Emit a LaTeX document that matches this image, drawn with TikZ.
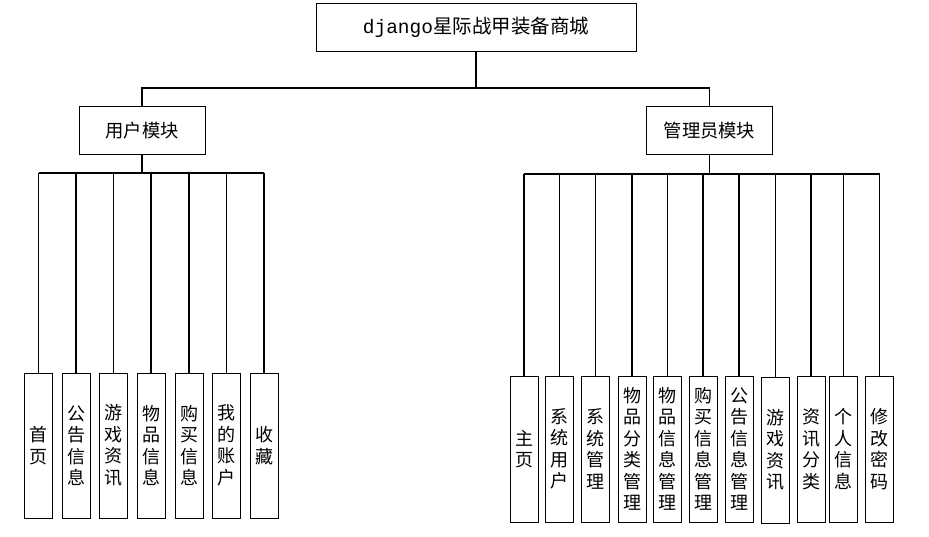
\documentclass[tikz,border=0pt]{standalone}
\usepackage{fontspec}
\setmainfont{Liberation Serif}
\newfontfamily\cjk{Noto Sans CJK SC}
\newfontfamily\latmono{Liberation Mono}
\begin{document}
\begin{tikzpicture}[x=1pt,y=-1pt,
  box/.style={draw=black, line width=1pt, fill=white, inner sep=0pt},
  modbox/.style={box, minimum width=126pt, minimum height=48pt, font=\cjk\fontsize{18.3}{20}\selectfont},
  leaf/.style={box, minimum width=28pt, minimum height=145pt, align=center, font=\cjk\fontsize{18}{21.5}\selectfont},
  conn/.style={draw=black, line width=1.3pt}]
\useasboundingbox (0,0) rectangle (929,537);
\node[box, minimum width=320pt, minimum height=48pt, font=\fontsize{19.5}{22}\selectfont] (top) at (476,27.5) {{\latmono django}{\cjk 星际战甲装备商城}};
\node[modbox] (um) at (142,131) {用户模块};
\node[modbox] (am) at (709.5,131) {管理员模块};
\coordinate (j0) at (476,88);
\coordinate (lb) at (0,173);
\coordinate (rb) at (0,174);
% user leaves
\node[leaf] (l1) at (38.5,445.5) {首\\页};
\node[leaf] (l2) at (76,445.5) {公\\告\\信\\息};
\node[leaf] (l3) at (113.5,445.5) {游\\戏\\资\\讯};
\node[leaf] (l4) at (151,445.5) {物\\品\\信\\息};
\node[leaf] (l5) at (189,445.5) {购\\买\\信\\息};
\node[leaf] (l6) at (226.5,445.5) {我\\的\\账\\户};
\node[leaf] (l7) at (264,445.5) {收\\藏};
% admin leaves
\node[leaf, minimum height=146pt] (r1) at (524,449) {主\\页};
\node[leaf, minimum height=146pt] (r2) at (559.5,449) {系\\统\\用\\户};
\node[leaf, minimum height=146pt] (r3) at (595.5,449) {系\\统\\管\\理};
\node[leaf, minimum height=146pt] (r4) at (632,449) {物\\品\\分\\类\\管\\理};
\node[leaf, minimum height=146pt] (r5) at (667.5,449) {物\\品\\信\\息\\管\\理};
\node[leaf, minimum height=146pt] (r6) at (703,449) {购\\买\\信\\息\\管\\理};
\node[leaf, minimum height=146pt] (r7) at (739,449) {公\\告\\信\\息\\管\\理};
\node[leaf, minimum height=146pt] (r8) at (775.5,450) {游\\戏\\资\\讯};
\node[leaf, minimum height=146pt] (r9) at (811,449) {资\\讯\\分\\类};
\node[leaf, minimum height=146pt] (r10) at (843.5,449) {个\\人\\信\\息};
\node[leaf, minimum height=146pt] (r11) at (879.5,449) {修\\改\\密\\码};
% connectors
\draw[conn] (top.south) -- (j0);
\draw[conn] (um.north) -- (um.north |- j0) -- (am.north |- j0) -- (am.north);
\draw[conn] (um.south) -- (um.south |- lb);
\draw[conn] (l1.north |- lb) -- (l7.north |- lb);
\foreach \i in {1,...,7} \draw[conn] (l\i.north) -- (l\i.north |- lb);
\draw[conn] (am.south) -- (am.south |- rb);
\draw[conn] (r1.north |- rb) -- (r11.north |- rb);
\foreach \i in {1,...,11} \draw[conn] (r\i.north) -- (r\i.north |- rb);
\end{tikzpicture}
\end{document}
